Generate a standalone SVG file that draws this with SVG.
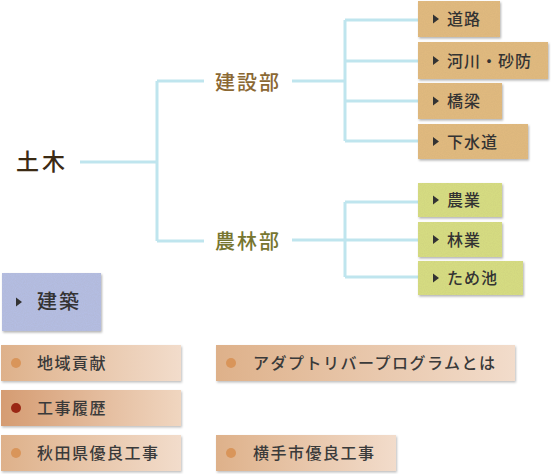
<svg xmlns="http://www.w3.org/2000/svg" width="551" height="474" viewBox="0 0 551 474">
<defs>
<filter id="box" x="-5%" y="-10%" width="115%" height="130%">
<feTurbulence type="fractalNoise" baseFrequency="0.9" numOctaves="2" seed="3" result="n"/>
<feColorMatrix in="n" type="matrix" values="0 0 0 0 0.4  0 0 0 0 0.3  0 0 0 0 0.15  0 0 0 0.2 -0.06" result="d"/>
<feComposite in="d" in2="SourceGraphic" operator="in" result="dn"/>
<feDropShadow in="SourceGraphic" dx="1" dy="1.5" stdDeviation="1" flood-color="#000" flood-opacity="0.3" result="sh"/>
<feMerge><feMergeNode in="sh"/><feMergeNode in="dn"/></feMerge>
</filter>
<filter id="sh" x="-5%" y="-10%" width="115%" height="130%">
<feDropShadow dx="1" dy="1.5" stdDeviation="1" flood-color="#000" flood-opacity="0.25"/>
</filter>
<linearGradient id="peach" x1="0" y1="0" x2="1" y2="0">
<stop offset="0" stop-color="#deb18a"/>
<stop offset="1" stop-color="#f2dccb"/>
</linearGradient>
<linearGradient id="peach2" x1="0" y1="0" x2="1" y2="0">
<stop offset="0" stop-color="#d59c72"/>
<stop offset="1" stop-color="#f0d6c0"/>
</linearGradient>
<path id="tri" d="M0,-4.5 L6,0 L0,4.5 Z"/>
</defs>
<style>
text{font-family:"Noto Sans CJK JP","Noto Sans CJK SC",sans-serif;font-weight:500;}
.ln{stroke:#bfe5ee;stroke-width:3;fill:none;}
.top{font-size:23px;fill:#3b2a14;letter-spacing:3px;}
.dep1{font-size:20px;fill:#8b6833;letter-spacing:2px;}
.dep2{font-size:20px;fill:#777630;letter-spacing:2px;}
.tan{fill:#e0b97f;}
.grn{fill:#d5dc82;}
.blu{fill:#b4bde2;}
.lbl{font-size:16px;fill:#333;letter-spacing:1px;}
.lbl2{font-size:16px;fill:#3a3a3a;letter-spacing:1.5px;}
.arr{fill:#333;}
.dot{fill:#d9955a;}
</style>

<g id="connectors">
<path class="ln" d="M80,162 H157 M157,81 V241 M157,81 H204 M157,241 H204"/>
<path class="ln" d="M292,81 H345 M345,20 V141 M345,20 H418 M345,61 H418 M345,101 H418 M345,141 H418"/>
<path class="ln" d="M292,240 H345 M345,202 V277 M345,202 H418 M345,240 H418 M345,277 H418"/>
</g>

<g id="doboku"><text class="top" x="16" y="170">土木</text></g>
<g id="kensetsu"><text class="dep1" x="215" y="90">建設部</text></g>
<g id="norin"><text class="dep2" x="215" y="249">農林部</text></g>

<g id="douro"><rect class="tan" x="418" y="1" width="82" height="36" filter="url(#box)"/><use href="#tri" class="arr" x="433" y="19"/><text class="lbl" x="447" y="25">道路</text></g>
<g id="kasen"><rect class="tan" x="418" y="42" width="130" height="37" filter="url(#box)"/><use href="#tri" class="arr" x="433" y="60.5"/><text class="lbl" x="447" y="66.5">河川・砂防</text></g>
<g id="kyoryo"><rect class="tan" x="418" y="83" width="84" height="36" filter="url(#box)"/><use href="#tri" class="arr" x="433" y="101"/><text class="lbl" x="447" y="107">橋梁</text></g>
<g id="gesuido"><rect class="tan" x="418" y="124" width="110" height="35" filter="url(#box)"/><use href="#tri" class="arr" x="433" y="141.5"/><text class="lbl" x="447" y="147.5">下水道</text></g>

<g id="nogyo"><rect class="grn" x="418" y="183" width="84" height="34" filter="url(#box)"/><use href="#tri" class="arr" x="433" y="200"/><text class="lbl" x="447" y="206">農業</text></g>
<g id="ringyo"><rect class="grn" x="418" y="222" width="84" height="35" filter="url(#box)"/><use href="#tri" class="arr" x="433" y="239.5"/><text class="lbl" x="447" y="245.5">林業</text></g>
<g id="tameike"><rect class="grn" x="418" y="261" width="105" height="34" filter="url(#box)"/><use href="#tri" class="arr" x="433" y="278"/><text class="lbl" x="447" y="284">ため池</text></g>

<g id="kenchiku"><rect class="blu" x="2" y="273" width="99" height="58" filter="url(#box)"/><use href="#tri" class="arr" x="16" y="302"/><text x="37" y="309" style="font-size:20px;fill:#333;letter-spacing:2px">建築</text></g>

<g id="chiiki"><rect fill="url(#peach)" x="1" y="345" width="180" height="36" filter="url(#sh)"/><circle class="dot" cx="16" cy="363" r="5"/><text class="lbl2" x="37" y="369">地域貢献</text></g>
<g id="kojirireki"><rect fill="url(#peach2)" x="1" y="390" width="180" height="36" filter="url(#sh)"/><circle cx="16" cy="408" r="5" fill="#9a2714"/><text class="lbl2" x="37" y="414">工事履歴</text></g>
<g id="akita"><rect fill="url(#peach)" x="1" y="435" width="180" height="36" filter="url(#sh)"/><circle class="dot" cx="16" cy="453" r="5"/><text class="lbl2" x="37" y="459">秋田県優良工事</text></g>
<g id="adopt"><rect fill="url(#peach)" x="216" y="345" width="299" height="36" filter="url(#sh)"/><circle class="dot" cx="231" cy="363" r="5"/><text class="lbl2" x="253" y="369">アダプトリバープログラムとは</text></g>
<g id="yokote"><rect fill="url(#peach)" x="216" y="435" width="180" height="36" filter="url(#sh)"/><circle class="dot" cx="231" cy="453" r="5"/><text class="lbl2" x="253" y="459">横手市優良工事</text></g>
</svg>
